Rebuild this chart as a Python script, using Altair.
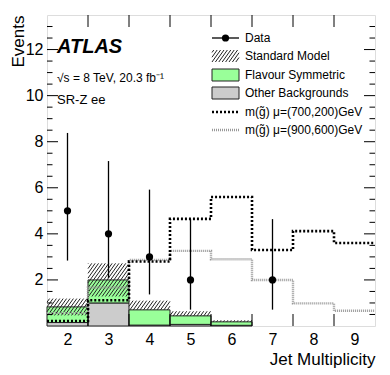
import altair as alt
import pandas as pd
import numpy as np

# ---------------- data ----------------
nj = [2, 3, 4, 5, 6, 7, 8, 9]
other_bkg = [0.15, 1.00, 0.04, 0.07, 0.03, 0.00, 0.00, 0.00]
flav_sym = [0.68, 1.00, 0.66, 0.37, 0.15, 0.01, 0.00, 0.00]
sm_lo = [0.46, 1.28, 0.70, 0.44, 0.18, 0.01, 0.00, 0.00]
sm_hi = [1.19, 2.72, 1.10, 0.64, 0.25, 0.01, 0.00, 0.00]
sig_700_200 = [0.22, 1.12, 2.80, 4.65, 5.60, 3.30, 4.12, 3.60]
sig_900_600 = [0.56, 1.67, 2.87, 3.26, 2.90, 2.00, 0.98, 0.66]
data_nj = [2, 3, 4, 5, 7]
data_n = [5, 4, 3, 2, 2]
data_lo = [2.84, 2.09, 1.37, 0.71, 0.71]
data_hi = [8.38, 7.16, 5.92, 4.64, 4.64]
y_major = [2, 4, 6, 8, 10, 12]
y_minor = [0.5, 1, 1.5, 2.5, 3, 3.5, 4.5, 5, 5.5, 6.5, 7, 7.5, 8.5, 9, 9.5,
           10.5, 11, 11.5, 12.5, 13]
x_edges_inner = [2.5, 3.5, 4.5, 5.5, 6.5, 7.5, 8.5]
legend_labels = ["Data", "Standard Model", "Flavour Symmetric",
                 "Other Backgrounds", "m(g\u0303) \u03bc=(700,200)GeV",
                 "m(g\u0303) \u03bc=(900,600)GeV"]

# ---------------- layout ----------------
W, H = 328, 311
XMIN, XMAX = 1.5, 9.5
YMIN, YMAX = 0, 13.5
FONT = "Liberation Sans"
GREEN = "#99ff99"
GREY = "#cccccc"
SIG2_COLOR = "#999999"

xs = alt.Scale(domain=[XMIN, XMAX], nice=False, zero=False)
ys = alt.Scale(domain=[YMIN, YMAX], nice=False)

lo_edge = [n - 0.5 for n in nj]
hi_edge = [n + 0.5 for n in nj]
tot = [o + f for o, f in zip(other_bkg, flav_sym)]

hist = pd.DataFrame({"x0": lo_edge, "x1": hi_edge, "other": other_bkg,
                     "tot": tot})
hist = hist[hist["tot"] > 0.02]

other_rect = alt.Chart(hist).mark_rect(fill=GREY, stroke="#222", strokeWidth=1).encode(
    x=alt.X("x0:Q", scale=xs), x2="x1:Q",
    y=alt.Y("other:Q", scale=ys), y2=alt.datum(0))
fs_rect = alt.Chart(hist).mark_rect(fill=GREEN, stroke="#222", strokeWidth=1).encode(
    x=alt.X("x0:Q", scale=xs), x2="x1:Q",
    y=alt.Y("tot:Q", scale=ys), y2="other:Q")

# hatch segments for SM uncertainty band (computed in pixel space)
sx = W / (XMAX - XMIN)
sy = H / (YMAX - YMIN)
slope = 1.4
d = 3.4
segs = []
for a_lo, a_hi, lo, hi in zip(lo_edge, hi_edge, sm_lo, sm_hi):
    if hi - lo < 0.02:
        continue
    x0p, x1p = (a_lo - XMIN) * sx, (a_hi - XMIN) * sx
    y0p, y1p = lo * sy, hi * sy
    jmin = int(np.floor((x0p - y1p / slope) / d)) - 1
    jmax = int(np.ceil((x1p - y0p / slope) / d)) + 1
    for j in range(jmin, jmax + 1):
        a = j * d
        pa = max(x0p, a + y0p / slope)
        pb = min(x1p, a + y1p / slope)
        if pb - pa > 0.3:
            segs.append({"xa": XMIN + pa / sx, "ya": slope * (pa - a) / sy,
                         "xb": XMIN + pb / sx, "yb": slope * (pb - a) / sy})
hatch = alt.Chart(pd.DataFrame(segs)).mark_rule(color="#222", strokeWidth=1).encode(
    x=alt.X("xa:Q", scale=xs), y=alt.Y("ya:Q", scale=ys), x2="xb:Q", y2="yb:Q")


def step_df(vals):
    xs_ = lo_edge + [hi_edge[-1]]
    vs = list(vals) + [vals[-1]]
    return pd.DataFrame({"x": xs_, "y": vs})


sig1 = alt.Chart(step_df(sig_700_200)).mark_line(
    interpolate="step-after", color="black", strokeWidth=2.6, strokeDash=[2, 2]
).encode(x=alt.X("x:Q", scale=xs), y=alt.Y("y:Q", scale=ys))
sig2 = alt.Chart(step_df(sig_900_600)).mark_line(
    interpolate="step-after", color=SIG2_COLOR, strokeWidth=2.4, strokeDash=[1, 1]
).encode(x=alt.X("x:Q", scale=xs), y=alt.Y("y:Q", scale=ys))

ddf = pd.DataFrame({"x": data_nj, "n": data_n, "lo": data_lo, "hi": data_hi})
err = alt.Chart(ddf).mark_rule(color="black", strokeWidth=1.3).encode(
    x=alt.X("x:Q", scale=xs), y=alt.Y("lo:Q", scale=ys), y2="hi:Q")
pts = alt.Chart(ddf).mark_circle(color="black", opacity=1, size=52).encode(
    x=alt.X("x:Q", scale=xs), y=alt.Y("n:Q", scale=ys))

# axes (labels only) ------------------------------------------------
axis_base = alt.Chart(pd.DataFrame({"x": [5.0], "y": [1.0]})).mark_point(opacity=0).encode(
    x=alt.X("x:Q", scale=xs, title="Jet Multiplicity",
            axis=alt.Axis(values=nj, tickSize=0, domain=False, grid=False,
                          labelFontSize=16, labelPadding=5, labelFont=FONT,
                          labelColor="black", titleFont=FONT, titleFontSize=17,
                          titleFontWeight="normal", titleColor="black",
                          titleAnchor="end", titleAlign="right", titleX=W,
                          titleY=38, titleBaseline="alphabetic")),
    y=alt.Y("y:Q", scale=ys, title="Events",
            axis=alt.Axis(values=y_major, tickSize=0, domain=False, grid=False,
                          labelFontSize=16, labelPadding=4, labelFont=FONT,
                          labelColor="black", titleFont=FONT, titleFontSize=17,
                          titleFontWeight="normal", titleColor="black",
                          titleAnchor="end", titleAlign="right", titleX=-24,
                          titleY=0, titleBaseline="alphabetic")))

# inward ticks
maj = pd.DataFrame({"y": y_major})
mnr = pd.DataFrame({"y": y_minor})
edges = pd.DataFrame({"x": x_edges_inner})
tk = dict(color="black", strokeWidth=1)
ticks = [
    alt.Chart(maj).mark_rule(**tk).encode(y=alt.Y("y:Q", scale=ys), x=alt.value(0), x2=alt.value(11)),
    alt.Chart(mnr).mark_rule(**tk).encode(y=alt.Y("y:Q", scale=ys), x=alt.value(0), x2=alt.value(5.5)),
    alt.Chart(maj).mark_rule(**tk).encode(y=alt.Y("y:Q", scale=ys), x=alt.value(W - 11), x2=alt.value(W)),
    alt.Chart(mnr).mark_rule(**tk).encode(y=alt.Y("y:Q", scale=ys), x=alt.value(W - 5.5), x2=alt.value(W)),
    alt.Chart(edges).mark_rule(**tk).encode(x=alt.X("x:Q", scale=xs), y=alt.value(H), y2=alt.value(H - 12)),
    alt.Chart(edges).mark_rule(**tk).encode(x=alt.X("x:Q", scale=xs), y=alt.value(0), y2=alt.value(12)),
]

# text annotations
ann = [
    alt.Chart(pd.DataFrame({"t": ["ATLAS"]})).mark_text(
        font=FONT, fontSize=20, fontWeight="bold", fontStyle="italic", align="left",
        baseline="alphabetic", color="black").encode(text="t:N", x=alt.value(10), y=alt.value(38)),
    alt.Chart(pd.DataFrame({"t": ["\u221as = 8 TeV, 20.3 fb\u207b\u00b9"]})).mark_text(
        font=FONT, fontSize=12, align="left", baseline="alphabetic", color="black").encode(
        text="t:N", x=alt.value(10), y=alt.value(67)),
    alt.Chart(pd.DataFrame({"t": ["SR-Z ee"]})).mark_text(
        font=FONT, fontSize=13, align="left", baseline="alphabetic", color="black").encode(
        text="t:N", x=alt.value(10), y=alt.value(89)),
]

# manual legend (pixel layout)
LX0, LX1, LTX = 165, 192, 198
rows = [23, 41, 60, 78, 97, 115]
leg_text = alt.Chart(pd.DataFrame({"t": legend_labels, "py": rows})).mark_text(
    font=FONT, fontSize=12, align="left", baseline="middle", color="black").encode(
    text="t:N", x=alt.value(LTX), y=alt.Y("py:Q", scale=None))
leg_data_line = alt.Chart(pd.DataFrame({"py": [rows[0]]})).mark_rule(color="black", strokeWidth=1.3).encode(
    x=alt.value(LX0), x2=alt.value(LX1), y=alt.Y("py:Q", scale=None))
leg_data_pt = alt.Chart(pd.DataFrame({"px": [(LX0 + LX1) / 2], "py": [rows[0]]})).mark_circle(
    color="black", opacity=1, size=52).encode(x=alt.X("px:Q", scale=None), y=alt.Y("py:Q", scale=None))
bh = 6
leg_boxes = alt.Chart(pd.DataFrame({
    "y0": [rows[2] - bh, rows[3] - bh], "y1": [rows[2] + bh, rows[3] + bh],
    "c": [GREEN, GREY]})).mark_rect(stroke="#222", strokeWidth=1).encode(
    x=alt.value(LX0), x2=alt.value(LX1), y=alt.Y("y0:Q", scale=None), y2="y1:Q",
    fill=alt.Fill("c:N", scale=None))
lsegs = []
for j in range(-5, 14):
    a = LX0 + j * d
    yb, yt = rows[1] + bh, rows[1] - bh
    pa = max(LX0, a)
    pb = min(LX1, a + (yb - yt) / slope)
    if pb - pa > 0.3:
        lsegs.append({"xa": pa, "ya": yb - slope * (pa - a), "xb": pb, "yb": yb - slope * (pb - a)})
leg_hatch = alt.Chart(pd.DataFrame(lsegs)).mark_rule(color="#222", strokeWidth=1).encode(
    x=alt.X("xa:Q", scale=None), y=alt.Y("ya:Q", scale=None), x2="xb:Q", y2="yb:Q")
leg_sig1 = alt.Chart(pd.DataFrame({"py": [rows[4]]})).mark_rule(
    color="black", strokeWidth=2.6, strokeDash=[2, 2]).encode(
    x=alt.value(LX0), x2=alt.value(LX1), y=alt.Y("py:Q", scale=None))
leg_sig2 = alt.Chart(pd.DataFrame({"py": [rows[5]]})).mark_rule(
    color=SIG2_COLOR, strokeWidth=2.4, strokeDash=[1, 1]).encode(
    x=alt.value(LX0), x2=alt.value(LX1), y=alt.Y("py:Q", scale=None))

chart = alt.layer(
    axis_base, other_rect, fs_rect, hatch, sig2, sig1, err, pts, *ticks, *ann,
    leg_text, leg_data_line, leg_data_pt, leg_boxes, leg_hatch, leg_sig1, leg_sig2
).properties(
    width=W, height=H,
    autosize=alt.AutoSizeParams(type="none"),
    padding={"left": 39, "top": 7, "right": 7, "bottom": 49},
).configure_view(stroke="black", strokeWidth=1.2).configure(background="white")

chart.save("out.html", embed_options={"renderer": "svg", "actions": False})
